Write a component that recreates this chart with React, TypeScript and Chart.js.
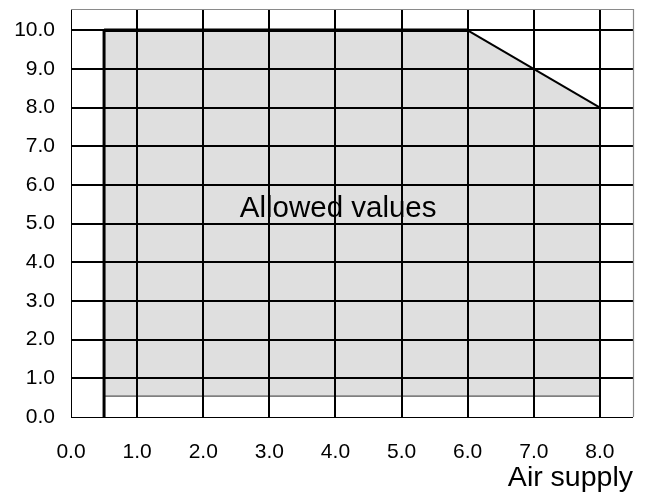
import React, { useEffect, useRef } from 'react';
import { Chart, registerables } from 'chart.js';

Chart.register(...registerables);

// ---- data ----
const xMin = 0;
const xMax = 8.5;
const yMin = 0;
const yMax = 10.55;
const tickStep = 1;

const regionX = [0.5, 0.5, 6, 8, 8, 0.5];
const regionY = [0.54, 10, 10, 8, 0.54, 0.54];

const leftEdgeX = [0.5, 0.5];
const leftEdgeY = [0, 10];
const topEdgeX = [0.5, 6];
const topEdgeY = [10, 10];
const slopeX = [6, 8];
const slopeY = [10, 8];
const floorX = [0.5, 8];
const floorY = [0.54, 0.54];

const regionLabel = 'Allowed values';
const regionLabelX = 4.04;
const regionLabelY = 5.18;
const xTitle = 'Air supply';

const FONT = '"Liberation Sans", Arial, Helvetica, sans-serif';

const pts = (xs: number[], ys: number[]) => xs.map((x, i) => ({ x, y: ys[i] }));

const framePlugin = {
  id: 'frameAndLabel',
  afterDraw(chart: any) {
    const { ctx, chartArea, scales } = chart;
    ctx.save();
    ctx.strokeStyle = '#8a8a8a';
    ctx.lineWidth = 1.2;
    ctx.beginPath();
    ctx.moveTo(chartArea.left, chartArea.top + 0.5);
    ctx.lineTo(chartArea.right + 0.5, chartArea.top + 0.5);
    ctx.lineTo(chartArea.right + 0.5, chartArea.bottom);
    ctx.stroke();
    ctx.fillStyle = '#000';
    ctx.font = `29.5px ${FONT}`;
    ctx.textAlign = 'center';
    ctx.textBaseline = 'alphabetic';
    ctx.fillText(
      regionLabel,
      scales.x.getPixelForValue(regionLabelX),
      scales.y.getPixelForValue(regionLabelY)
    );
    ctx.restore();
  },
};

export default function App() {
  const canvasRef = useRef<HTMLCanvasElement | null>(null);

  useEffect(() => {
    if (!canvasRef.current) return;
    const gridWidth = (c: any) => (c.tick && c.tick.value === 0 ? 0 : 2);
    const edge = (xs: number[], ys: number[], color: string, width: number) => ({
      data: pts(xs, ys),
      showLine: true,
      borderColor: color,
      borderWidth: width,
      pointRadius: 0,
      order: 0,
    });
    const chart = new Chart(canvasRef.current, {
      type: 'scatter',
      data: {
        datasets: [
          {
            data: pts(regionX, regionY),
            showLine: true,
            fill: 'shape',
            backgroundColor: '#dfdfdf',
            borderWidth: 0,
            pointRadius: 0,
            order: 5,
          } as any,
          edge(leftEdgeX, leftEdgeY, '#000', 3),
          edge(topEdgeX, topEdgeY, '#000', 3.5),
          edge(slopeX, slopeY, '#000', 2),
          edge(floorX, floorY, '#555', 1.2),
        ],
      },
      options: {
        animation: false,
        responsive: true,
        maintainAspectRatio: false,
        layout: { padding: { top: 9, right: 12, left: 0, bottom: 0 } },
        plugins: {
          legend: { display: false },
          tooltip: { enabled: false },
        },
        scales: {
          x: {
            type: 'linear',
            min: xMin,
            max: xMax,
            grid: { color: '#000', lineWidth: gridWidth, drawTicks: false, z: 1 },
            border: { color: '#000', width: 1, z: 1 },
            ticks: {
              stepSize: tickStep,
              includeBounds: false,
              padding: 23,
              color: '#000',
              font: { family: FONT, size: 21 },
              maxRotation: 0,
              callback: (v: any) => Number(v).toFixed(1),
            },
            title: {
              display: true,
              text: xTitle,
              align: 'end',
              color: '#000',
              font: { family: FONT, size: 28.5 },
              padding: { top: 0, bottom: 0 },
            },
            afterFit: (s: any) => {
              s.height = 78;
              s.paddingLeft = 0;
              s.paddingRight = 0;
            },
          },
          y: {
            type: 'linear',
            min: yMin,
            max: yMax,
            grid: { color: '#000', lineWidth: gridWidth, drawTicks: false, z: 1 },
            border: { color: '#000', width: 1, z: 1 },
            ticks: {
              stepSize: tickStep,
              includeBounds: false,
              padding: 16,
              color: '#000',
              font: { family: FONT, size: 21 },
              callback: (v: any) => Number(v).toFixed(1),
            },
            afterFit: (s: any) => {
              s.width = 71;
              s.paddingTop = 0;
              s.paddingBottom = 0;
            },
          },
        },
      } as any,
      plugins: [framePlugin],
    });
    return () => chart.destroy();
  }, []);

  return (
    <div style={{ position: 'fixed', left: 0, top: 0, width: 645, height: 495, background: '#fff' }}>
      <canvas ref={canvasRef} />
    </div>
  );
}
